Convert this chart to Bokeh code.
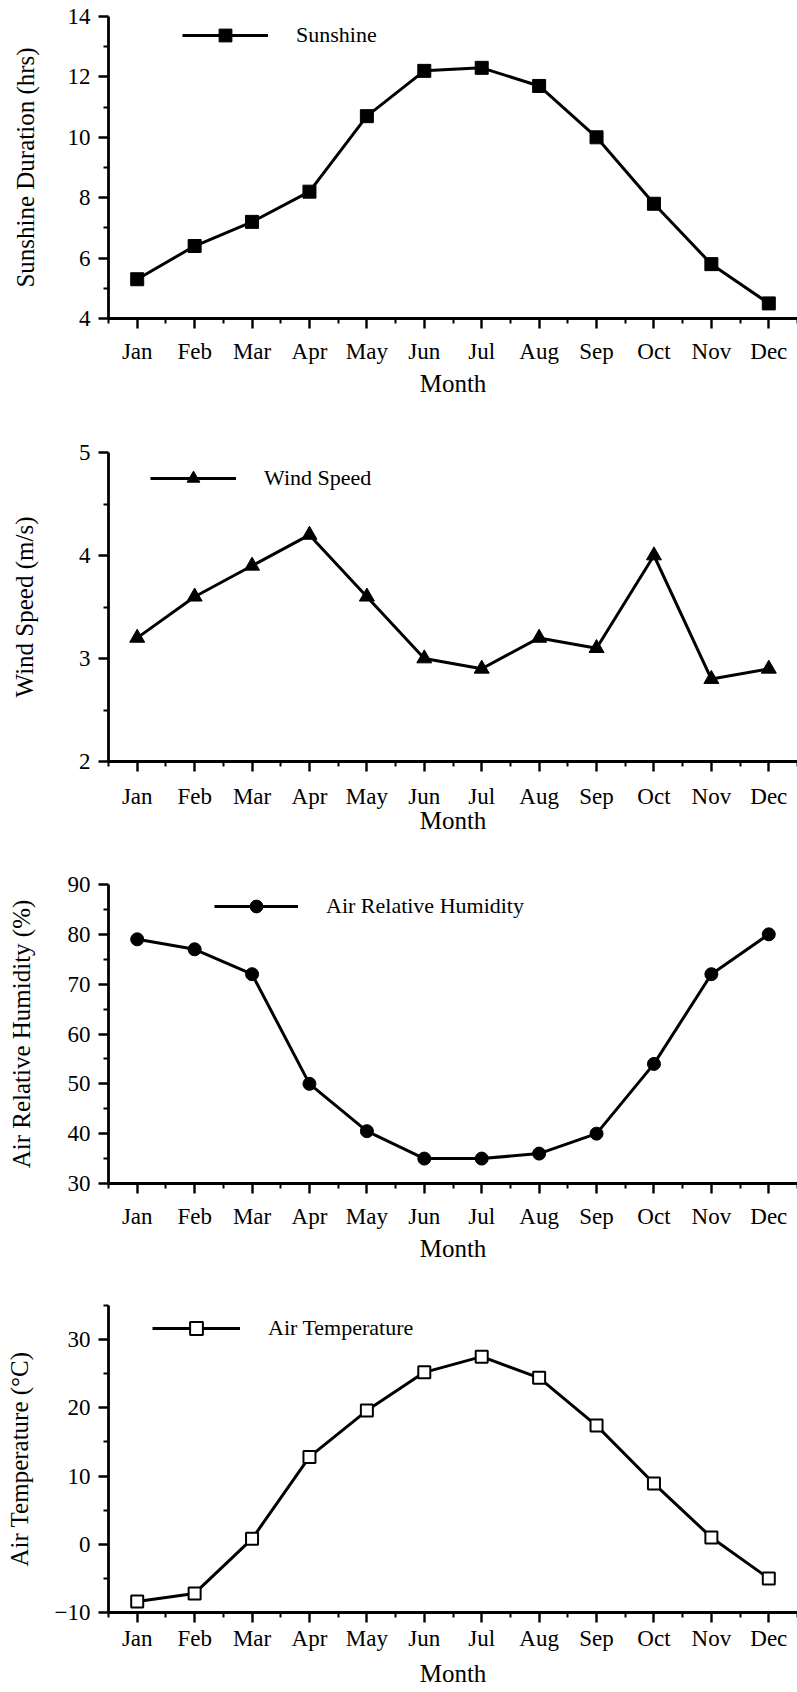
from bokeh.plotting import figure
from bokeh.models import FixedTicker, Legend, LegendItem, Range1d
from bokeh.layouts import column
from bokeh.embed import file_html
from bokeh.resources import INLINE

# ---------------- data ----------------
months = ["Jan", "Feb", "Mar", "Apr", "May", "Jun", "Jul", "Aug", "Sep", "Oct", "Nov", "Dec"]
sunshine = [5.3, 6.4, 7.2, 8.2, 10.7, 12.2, 12.3, 11.7, 10.0, 7.8, 5.8, 4.5]
wind_speed = [3.2, 3.6, 3.9, 4.2, 3.6, 3.0, 2.9, 3.2, 3.1, 4.0, 2.8, 2.9]
humidity = [79, 77, 72, 50, 40.5, 35, 35, 36, 40, 54, 72, 80]
temperature = [-8.4, -7.2, 0.8, 12.8, 19.6, 25.2, 27.5, 24.4, 17.4, 8.9, 1.0, -5.0]

sun_ticks = [4, 6, 8, 10, 12, 14]
sun_minor = [5, 7, 9, 11, 13]
wind_ticks = [2, 3, 4, 5]
wind_minor = [2.5, 3.5, 4.5]
hum_ticks = [30, 40, 50, 60, 70, 80, 90]
hum_minor = [35, 45, 55, 65, 75, 85]
temp_ticks = [-10, 0, 10, 20, 30]
temp_minor = [-5, 5, 15, 25, 35]

FONT = "Liberation Serif"
W = 797


def panel(values, ylabel, name, marker, fill, yr, ticks, minor, height, b_top, b_bottom,
          leg_loc, glyph_w, ylab_standoff, msize, tick_standoff=10, xlab_standoff=3):
    x = list(range(1, len(months) + 1))
    p = figure(width=W, height=height, output_backend="svg", toolbar_location=None,
               x_range=Range1d(0.5, len(months) + 0.5), y_range=Range1d(*yr),
               min_border_left=108, min_border_right=0,
               min_border_top=b_top, min_border_bottom=b_bottom)
    p.outline_line_color = None
    p.grid.visible = False
    p.background_fill_color = "white"
    p.border_fill_color = "white"

    ln = p.line(x, values, line_color="black", line_width=3)
    sc = p.scatter(x, values, marker=marker, size=msize, fill_color=fill,
                   line_color="black", line_width=2 if fill == "white" else 1)

    # x axis
    xa = p.xaxis[0]
    xa.ticker = FixedTicker(ticks=x, minor_ticks=[v + 0.5 for v in range(0, len(months) + 1)])
    xa.major_label_overrides = {i: m for i, m in zip(x, months)}
    xa.axis_label = "Month"
    # y axis
    ya = p.yaxis[0]
    ya.ticker = FixedTicker(ticks=ticks, minor_ticks=minor)
    ya.axis_label = ylabel
    ya.axis_label_standoff = ylab_standoff
    xa.axis_label_standoff = xlab_standoff
    xa.major_label_standoff = tick_standoff
    ya.major_label_standoff = 8
    for ax in (xa, ya):
        ax.axis_line_width = 2.8
        ax.axis_line_color = "black"
        ax.major_tick_line_width = 2.4
        ax.minor_tick_line_width = 2
        ax.major_tick_line_color = "black"
        ax.minor_tick_line_color = "black"
        ax.major_tick_out = 10
        ax.major_tick_in = 0
        ax.minor_tick_out = 5
        ax.minor_tick_in = 0
        ax.major_label_text_font = FONT
        ax.major_label_text_color = "black"
        ax.axis_label_text_font = FONT
        ax.axis_label_text_font_style = "normal"
        ax.axis_label_text_color = "black"
        ax.axis_label_text_font_size = "25px"
    xa.major_label_text_font_size = "23px"
    ya.major_label_text_font_size = "23px"

    leg = Legend(items=[LegendItem(label=name, renderers=[ln, sc])], location=leg_loc,
                 border_line_color=None, background_fill_alpha=0, padding=0, margin=0,
                 spacing=0, glyph_width=glyph_w, glyph_height=32, label_standoff=28,
                 label_text_font=FONT, label_text_font_size="22px", label_text_color="black")
    p.add_layout(leg)
    return p


p1 = panel(sunshine, "Sunshine Duration (hrs)", "Sunshine", "square", "black", (4, 14),
           sun_ticks, sun_minor, 410, 16, 92, (74, 267), 86, 26, 13)
p2 = panel(wind_speed, "Wind Speed (m/s)", "Wind Speed", "triangle", "black", (2, 5),
           wind_ticks, wind_minor, 440, 42, 89, (42, 267), 86, 38, 15,
           tick_standoff=12, xlab_standoff=-5)
p3 = panel(humidity, "Air Relative Humidity (%)", "Air Relative Humidity", "circle", "black", (30, 90),
           hum_ticks, hum_minor, 430, 34, 97, (106, 261), 84, 30, 13)
p4 = panel(temperature, "Air Temperature (°C)", "Air Temperature", "square", "white", (-10, 35),
           temp_ticks, temp_minor, 412, 25, 80, (44, 268), 88, 19, 12,
           tick_standoff=3, xlab_standoff=6)

layout = column(p1, p2, p3, p4, spacing=0)
open("out.html", "w").write(file_html(layout, INLINE))
